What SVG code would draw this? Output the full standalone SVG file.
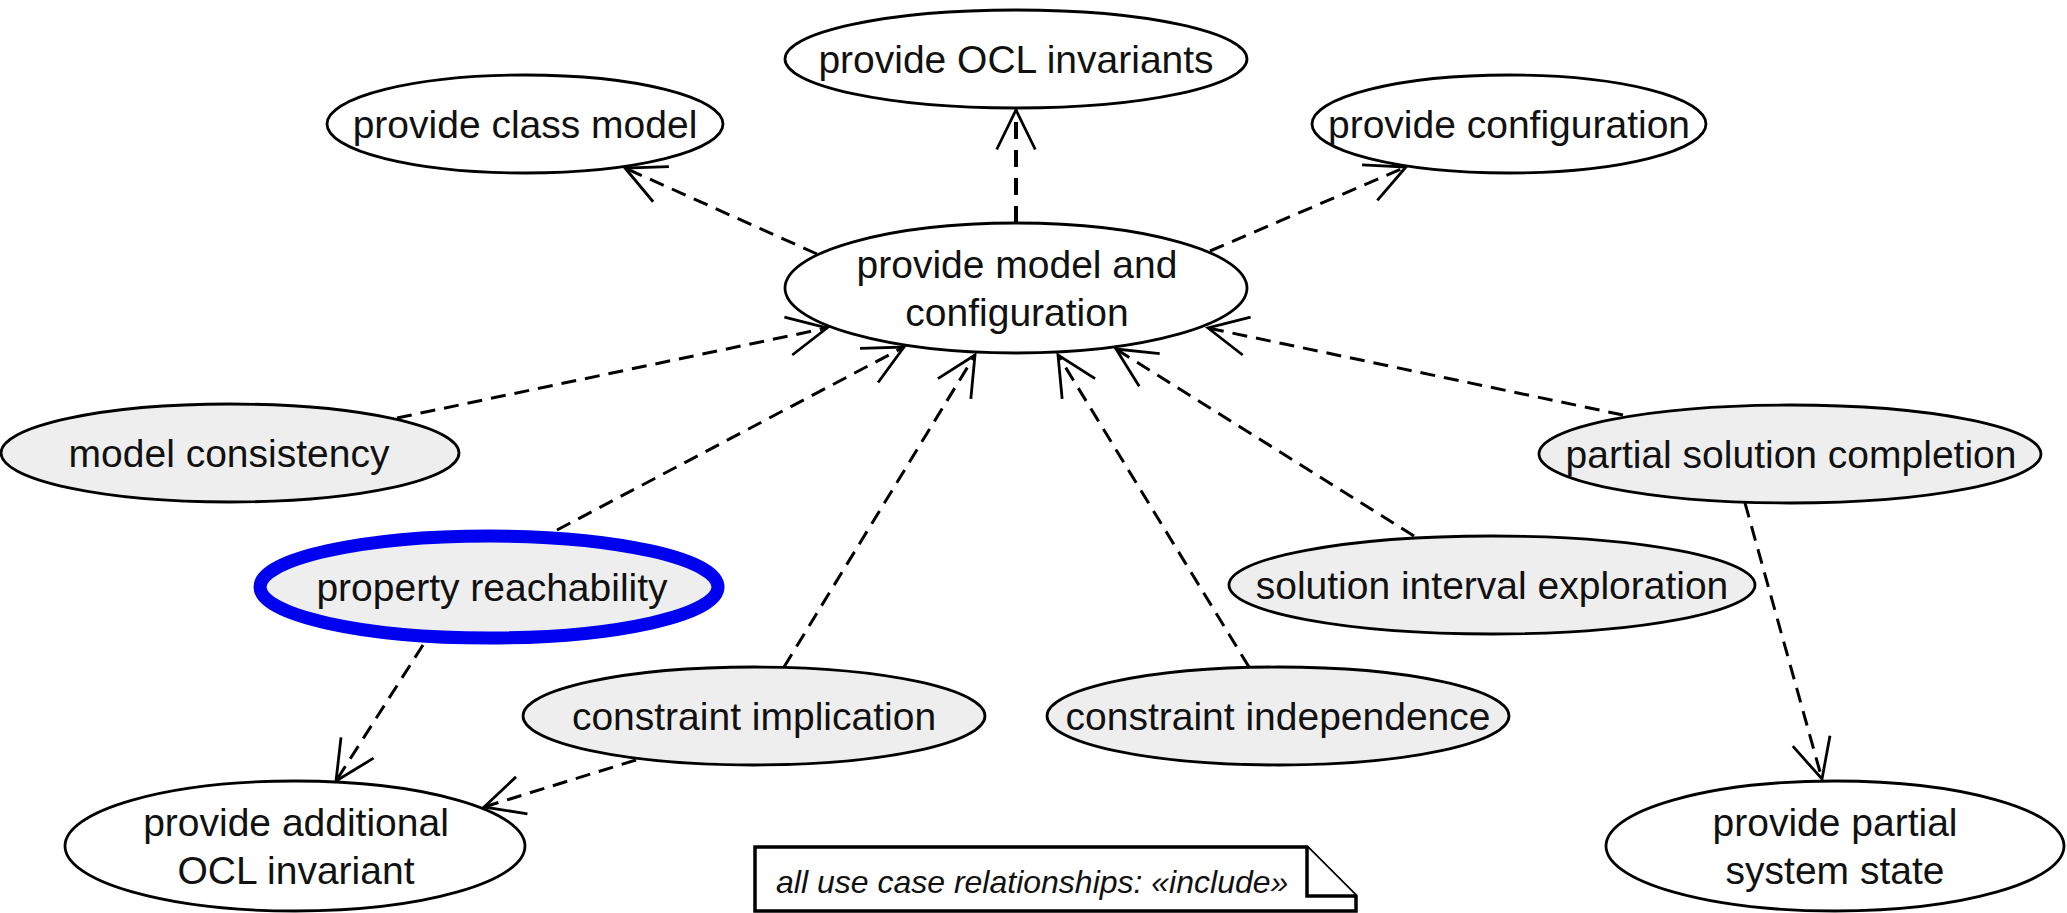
<svg xmlns="http://www.w3.org/2000/svg" width="2067" height="913" viewBox="0 0 2067 913">
  <style>
    .uc { fill: #ffffff; stroke: #000000; stroke-width: 2.8; }
    .uc.sub { fill: #eeeeee; }
    .uc.sel { stroke: #0000f0; stroke-width: 13; }
    .lbl { font-family: "Liberation Sans", Arial, sans-serif; font-size: 39px; fill: #111111; text-anchor: middle; }
    .inc { fill: none; stroke: #000000; stroke-width: 3; stroke-dasharray: 15 9; }
    .inc.heavy { stroke-width: 4; stroke-dasharray: 17 11; }
    .head { fill: none; stroke: #000000; stroke-width: 2.8; }
    .note { fill: #ffffff; stroke: #000000; stroke-width: 3.5; stroke-linejoin: miter; }
    .notetxt { font-family: "Liberation Sans", Arial, sans-serif; font-size: 32px; font-style: italic; fill: #111111; }
  </style>
  <defs>
    <!-- open arrowhead for «include» dependencies -->
    <marker id="open" markerUnits="userSpaceOnUse" markerWidth="50" markerHeight="50" viewBox="-45 -25 50 50" refX="0" refY="0" orient="auto" overflow="visible">
      <path class="head" d="M-39.5,-19.3 L0,0 L-39.5,19.3"/>
    </marker>
  </defs>

  <rect x="0" y="0" width="2067" height="913" fill="#ffffff"/>

  <!-- include relationships -->
  <g id="connectors">
    <path class="inc" d="M817,254 L625,168" marker-end="url(#open)"/>
    <path class="inc heavy" d="M1016,223 L1016,110" marker-end="url(#open)"/>
    <path class="inc" d="M1210,251 L1406,167" marker-end="url(#open)"/>
    <path class="inc" d="M397,418 L827,328" marker-end="url(#open)"/>
    <path class="inc" d="M557,530 L904,347" marker-end="url(#open)"/>
    <path class="inc" d="M784,667 L975,355" marker-end="url(#open)"/>
    <path class="inc" d="M1249,667 L1058,355" marker-end="url(#open)"/>
    <path class="inc" d="M1414,536 L1116,349" marker-end="url(#open)"/>
    <path class="inc" d="M1623,415 L1208,328" marker-end="url(#open)"/>
    <path class="inc" d="M1745,503 L1822,779" marker-end="url(#open)"/>
    <path class="inc" d="M423,645 L336,781" marker-end="url(#open)"/>
    <path class="inc" d="M636,760 L484,807" marker-end="url(#open)"/>
  </g>

  <g id="provide-ocl-invariants">
    <ellipse class="uc" cx="1016" cy="59" rx="231" ry="49"/>
    <text class="lbl" x="1016" y="73">provide OCL invariants</text>
  </g>

  <g id="provide-class-model">
    <ellipse class="uc" cx="525" cy="124" rx="198" ry="49"/>
    <text class="lbl" x="525" y="138">provide class model</text>
  </g>

  <g id="provide-configuration">
    <ellipse class="uc" cx="1509" cy="124" rx="197" ry="49"/>
    <text class="lbl" x="1509" y="138">provide configuration</text>
  </g>

  <g id="provide-model-and-configuration">
    <ellipse class="uc" cx="1016" cy="288" rx="231" ry="65"/>
    <text class="lbl" x="1017" y="278">provide model and</text>
    <text class="lbl" x="1017" y="326">configuration</text>
  </g>

  <g id="model-consistency">
    <ellipse class="uc sub" cx="230" cy="453" rx="229" ry="49"/>
    <text class="lbl" x="229" y="467">model consistency</text>
  </g>

  <g id="partial-solution-completion">
    <ellipse class="uc sub" cx="1790" cy="454" rx="251" ry="49"/>
    <text class="lbl" x="1791" y="468">partial solution completion</text>
  </g>

  <g id="property-reachability">
    <ellipse class="uc sub sel" cx="489" cy="587" rx="229" ry="51"/>
    <text class="lbl" x="492" y="601">property reachability</text>
  </g>

  <g id="solution-interval-exploration">
    <ellipse class="uc sub" cx="1492" cy="585" rx="263" ry="49"/>
    <text class="lbl" x="1492" y="599">solution interval exploration</text>
  </g>

  <g id="constraint-implication">
    <ellipse class="uc sub" cx="754" cy="716" rx="231" ry="49"/>
    <text class="lbl" x="754" y="730">constraint implication</text>
  </g>

  <g id="constraint-independence">
    <ellipse class="uc sub" cx="1278" cy="716" rx="231" ry="49"/>
    <text class="lbl" x="1278" y="730">constraint independence</text>
  </g>

  <g id="provide-additional-ocl-invariant">
    <ellipse class="uc" cx="295" cy="846" rx="230" ry="65"/>
    <text class="lbl" x="296" y="836">provide additional</text>
    <text class="lbl" x="296" y="884">OCL invariant</text>
  </g>

  <g id="provide-partial-system-state">
    <ellipse class="uc" cx="1835" cy="846" rx="229" ry="65"/>
    <text class="lbl" x="1835" y="836">provide partial</text>
    <text class="lbl" x="1835" y="884">system state</text>
  </g>

  <g id="note">
    <path class="note" d="M755,847 H1307 L1356,896 V911 H755 Z"/>
    <path class="note" d="M1307,847 V896 H1356" fill="none"/>
    <text class="notetxt" x="776" y="893">all use case relationships: «include»</text>
  </g>
</svg>
